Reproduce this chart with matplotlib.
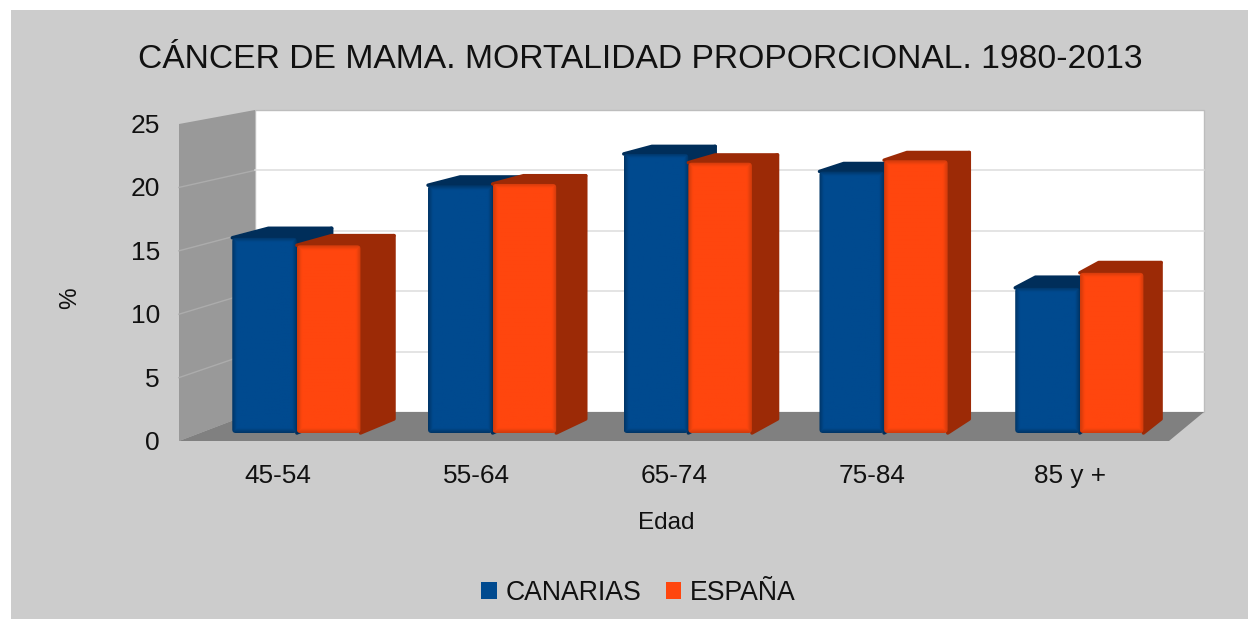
import numpy as np
import matplotlib
matplotlib.use("Agg")
from matplotlib import pyplot as plt
from matplotlib.patches import FancyBboxPatch, Patch, Polygon, Rectangle

plt.rcParams['font.family'] = ['Liberation Sans', 'DejaVu Sans']

# Data
categories = ["45-54", "55-64", "65-74", "75-84", "85 y +"]
canarias = [15.6, 19.8, 22.3, 20.9, 11.6]
espana = [15.0, 19.9, 21.6, 21.8, 12.8]
y_ticks = [0, 5, 10, 15, 20, 25]
title = "CÁNCER DE MAMA. MORTALIDAD PROPORCIONAL. 1980-2013"

# 3D look: front and back plane of the box, in pixels
FRONT_LEFT, FRONT_RIGHT, FRONT_BASE, FRONT_TOP = 179, 1169, 441, 124
BACK_LEFT, BACK_RIGHT, BACK_BASE, BACK_TOP = 255, 1204, 412, 110
YMAX = 25
BAR_FRONT, BAR_BACK = 0.276, 0.76
# Bar edges inside one category slot
BAR_LEFT, BAR_MID, BAR_RIGHT = 0.165, 0.495, 0.82


def project(cat, value, depth):
    """cat is in category units, value in %, depth 0 (front) to 1 (back)."""
    u = cat / len(categories)
    left = FRONT_LEFT + (BACK_LEFT - FRONT_LEFT) * depth
    right = FRONT_RIGHT + (BACK_RIGHT - FRONT_RIGHT) * depth
    base = FRONT_BASE + (BACK_BASE - FRONT_BASE) * depth
    top = FRONT_TOP + (BACK_TOP - FRONT_TOP) * depth
    return left + (right - left) * u, base + (top - base) * value / YMAX


def front_face(x0, x1, y0, y1, base, edge, z):
    """Bar front with rounded corners and darkened borders."""
    xs = np.arange(int(x1 - x0)) + 0.5
    ys = np.arange(int(y0 - y1)) + 0.5
    dx = np.minimum(xs, xs[::-1])
    dy = np.minimum(ys, ys[::-1])
    d = np.clip(np.minimum.outer(dy, dx) / 5.0, 0, 1)[..., None]
    img = np.array(edge)[None, None, :] * (1 - d) + np.array(base)[None, None, :] * d
    im = ax.imshow(img / 255.0, extent=(x0, x1, y0, y1), aspect='auto',
                   interpolation='bilinear', zorder=z)
    clip = FancyBboxPatch((x0, y1), x1 - x0, y0 - y1,
                          boxstyle="round,pad=0,rounding_size=3.5",
                          transform=ax.transData, fc='none', ec='none')
    ax.add_patch(clip)
    im.set_clip_path(clip)


def bar(i, c0, c1, value, base, edge, top_col, side_col, z):
    fl, fy0 = project(c0, 0, BAR_FRONT)
    fr, fy1 = project(c1, value, BAR_FRONT)
    bl, by1 = project(c0, value, BAR_BACK)
    br, by0 = project(c1, 0, BAR_BACK)
    ax.add_patch(Polygon([(fl, fy1), (fr, fy1), (br, by1), (bl, by1)], fc=top_col,
                         ec=top_col, lw=2.5, joinstyle='round', zorder=z))
    ax.add_patch(Polygon([(fr, fy0), (fr, fy1), (br, by1), (br, by0)], fc=side_col,
                         ec=side_col, lw=2.5, joinstyle='round', zorder=z))
    front_face(fl, fr, fy0, fy1, base, edge, z + 1)


fig = plt.figure(figsize=(12.48, 6.19), dpi=100, facecolor='white')
ax = fig.add_axes([0, 0, 1, 1])
ax.set_xlim(0, 1248)
ax.set_ylim(619, 0)
ax.axis('off')

# Chart background
ax.add_patch(Rectangle((11, 10), 1237, 609, fc='#cccccc', ec='none', zorder=0))

n = len(categories)
# Walls and floor
ax.add_patch(Polygon([project(0, 0, 1), project(n, 0, 1), project(n, YMAX, 1), project(0, YMAX, 1)],
                     fc='white', ec='#bdbdbd', lw=1, zorder=1))
ax.add_patch(Polygon([project(0, 0, 0), project(0, 0, 1), project(0, YMAX, 1), project(0, YMAX, 0)],
                     fc='#999999', ec='none', zorder=1))
ax.add_patch(Polygon([project(0, 0, 0), project(n, 0, 0), project(n, 0, 1), project(0, 0, 1)],
                     fc='#808080', ec='none', zorder=2))

# Gridlines, on the wall and on the back
for v in y_ticks[1:-1]:
    p0, p1, p2 = project(0, v, 0), project(0, v, 1), project(n, v, 1)
    ax.plot([p0[0], p1[0]], [p0[1], p1[1]], color='#acacac', lw=1, zorder=2)
    ax.plot([p1[0], p2[0]], [p1[1], p2[1]], color='#dcdcdc', lw=1.1, zorder=2)

# Bars
for i in range(n):
    z = 3 + i * 4
    bar(i, i + BAR_LEFT, i + BAR_MID, canarias[i], (0, 74, 143), (0, 52, 100),
        '#002e5a', '#002e5a', z)
    bar(i, i + BAR_MID, i + BAR_RIGHT, espana[i], (255, 70, 14), (205, 58, 12),
        '#9c2a06', '#9c2a06', z + 2)

# Tick labels
for v in y_ticks:
    ax.text(160, project(0, v, 0)[1] + 2, str(v), ha='right', va='center', fontsize=19, color='#111111')
for i, lab in enumerate(categories):
    ax.text(project(i + 0.5, 0, 0)[0], 476, lab, ha='center', va='center', fontsize=18.8, color='#111111')

ax.text(640, 59, title, ha='center', va='center', fontsize=24.2, color='#111111')
ax.text(666, 523, "Edad", ha='center', va='center', fontsize=17.5, color='#111111')
ax.text(70, 298, "%", ha='center', va='center', rotation=90, fontsize=17.5, color='#111111')

handles = [Patch(fc='#004a8f', ec='none', label="CANARIAS"),
           Patch(fc='#ff460e', ec='none', label="ESPAÑA")]
ax.legend(handles=handles, loc='center', bbox_to_anchor=(638.5, 593), bbox_transform=ax.transData,
          ncol=2, frameon=False, fontsize=19.2, labelcolor='#111111', handlelength=0.58,
          handleheight=0.58, handletextpad=0.34, columnspacing=0.9, borderpad=0, borderaxespad=0)

fig.savefig("out.png", dpi=100, facecolor=fig.get_facecolor())
